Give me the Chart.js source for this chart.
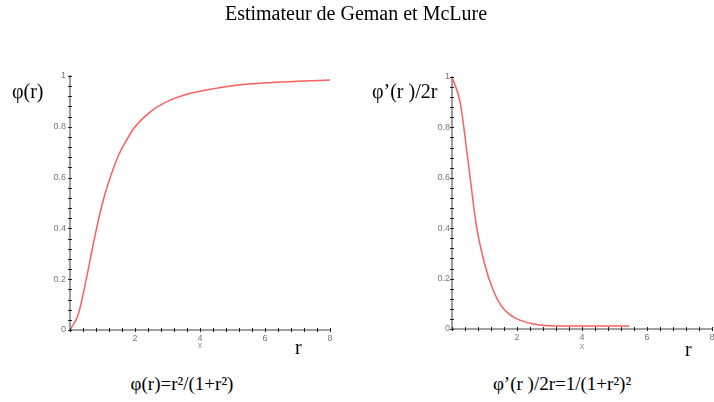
<!DOCTYPE html>
<html>
<head>
<meta charset="utf-8">
<script src="https://cdn.jsdelivr.net/npm/chart.js@4.4.1/dist/chart.umd.min.js"></script>
<style>
body { margin: 0; width: 714px; height: 402px; overflow: hidden; background: #fff; position: relative;
       font-family: "Liberation Serif", "Times New Roman", serif; color: #000; }
canvas { position: absolute; top: 0; }
.t { position: absolute; white-space: nowrap; font-size: 20px; line-height: 1; }
</style>
</head>
<body>
<canvas id="left" width="360" height="360" style="left:0"></canvas>
<canvas id="right" width="360" height="360" style="left:360px"></canvas>

<div class="t" style="left:356px;top:3px;transform:translateX(-50%)">Estimateur de Geman et McLure</div>
<div class="t" style="left:12px;top:81px">φ(r)</div>
<div class="t" style="left:372px;top:81px">φ’(r )/2r</div>
<div class="t" style="left:295px;top:337px">r</div>
<div class="t" style="left:685px;top:339px">r</div>
<div class="t" style="left:182px;top:374px;font-size:19px;transform:translateX(-50%)">φ(r)=r²/(1+r²)</div>
<div class="t" style="left:562px;top:374px;font-size:19px;transform:translateX(-50%)">φ’(r )/2r=1/(1+r²)²</div>

<script>
// valeurs
const rPhi = [0, 0.25, 0.5, 0.75, 1, 1.25, 1.5, 1.75, 2, 2.5, 3, 3.5, 4, 5, 6, 7, 8];
const phiValues = [0, 0.06, 0.2, 0.36, 0.5, 0.605, 0.69, 0.75, 0.8, 0.862, 0.9, 0.924, 0.94, 0.962, 0.973, 0.979, 0.984];

const rWeight = [0, 0.25, 0.5, 0.75, 1, 1.25, 1.5, 1.75, 2, 2.5, 3, 3.5, 4, 5, 5.45];
const weightValues = [1, 0.9, 0.66, 0.41, 0.26, 0.16, 0.095, 0.06, 0.04, 0.02, 0.013, 0.012, 0.012, 0.012, 0.012];

const xTickLabels = [2, 4, 6, 8];
const yTickLabels = [0, 0.2, 0.4, 0.6, 0.8, 1];

// petites graduations qui traversent l'axe
const crossTicks = {
    id: "crossTicks",
    afterDraw(chart) {
        const { ctx, scales: { x, y } } = chart;
        ctx.save();
        ctx.strokeStyle = "#222";
        ctx.lineWidth = 1;
        ctx.beginPath();
        x.ticks.forEach(t => {
            const px = Math.round(x.getPixelForValue(t.value)) + 0.5;
            ctx.moveTo(px, y.bottom - 2);
            ctx.lineTo(px, y.bottom + 2);
        });
        y.ticks.forEach(t => {
            const py = Math.round(y.getPixelForValue(t.value)) + 0.5;
            ctx.moveTo(x.left - 2, py);
            ctx.lineTo(x.left + 2, py);
        });
        ctx.stroke();
        ctx.restore();
    }
};

function label(list, v) {
    const found = list.find(t => Math.abs(t - v) < 1e-6);
    return found === undefined ? "" : String(found);
}

function makeChart(id, xs, ys, box) {
    const points = xs.map((r, i) => ({ x: r, y: ys[i] }));
    return new Chart(document.getElementById(id), {
        type: "scatter",
        data: {
            datasets: [{
                data: points,
                showLine: true,
                borderColor: "rgb(250,95,95)",
                borderWidth: 1.5,
                pointRadius: 0,
                cubicInterpolationMode: "monotone",
                clip: false
            }]
        },
        options: {
            responsive: false,
            animation: false,
            events: [],
            layout: { padding: { left: 0, top: box.top, right: box.right, bottom: 0 } },
            plugins: { legend: { display: false }, tooltip: { enabled: false } },
            scales: {
                x: {
                    type: "linear", min: 0, max: 8,
                    afterFit: s => { s.height = box.xh; },
                    grid: { display: false, drawTicks: false, tickLength: 0 },
                    border: { display: true, color: "#a0a0a0", width: 2 },
                    ticks: {
                        stepSize: 0.4, autoSkip: false, maxRotation: 0, padding: 3,
                        color: "#777", font: { family: "Liberation Sans", size: 9 },
                        callback: v => label(xTickLabels, v)
                    },
                    title: {
                        display: true, text: "x", color: "#999",
                        font: { family: "Liberation Sans", size: 9 },
                        padding: { top: 0, bottom: box.tp }
                    }
                },
                y: {
                    type: "linear", min: 0, max: 1,
                    afterFit: s => { s.width = box.yw; },
                    grid: { display: false, drawTicks: false, tickLength: 0 },
                    border: { display: true, color: "#a0a0a0", width: 2 },
                    ticks: {
                        stepSize: 0.04, autoSkip: false, padding: box.lp,
                        color: "#777", font: { family: "Liberation Sans", size: 9 },
                        callback: v => label(yTickLabels, v)
                    }
                }
            }
        },
        plugins: [crossTicks]
    });
}

makeChart("left", rPhi, phiValues, { top: 76, right: 30, xh: 30, yw: 70, tp: 9, lp: 4 });
makeChart("right", rWeight, weightValues, { top: 77, right: 8, xh: 31, yw: 92, tp: 8, lp: 2 });
</script>
</body>
</html>
